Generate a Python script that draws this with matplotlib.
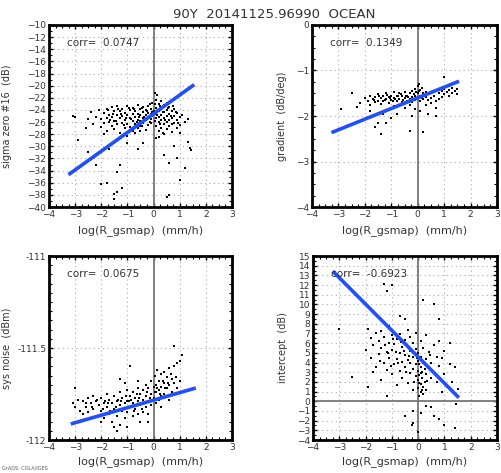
import numpy as np
import matplotlib
matplotlib.use("Agg")
import matplotlib.pyplot as plt
from matplotlib.ticker import MultipleLocator

# title / labels
TITLE = "90Y  20141125.96990  OCEAN"
XLABEL = "log(R_gsmap)  (mm/h)"

# panel 1: sigma zero #16
sig_x = [-3.1, -3.0, -2.9, -2.6, -2.5, -2.4, -2.3, -2.2, -2.1, -2.0, -2.0,
         -1.9, -1.9, -1.8, -1.8, -1.8, -1.7, -1.7, -1.6, -1.6, -1.6, -1.5, -1.5, -1.5,
         -1.4, -1.4, -1.4, -1.3, -1.3, -1.3, -1.2, -1.2, -1.2, -1.1, -1.1, -1.1,
         -1.0, -1.0, -1.0, -1.0,
         -0.9, -0.9, -0.9, -0.8, -0.8, -0.8, -0.8, -0.7, -0.7, -0.7, -0.6, -0.6, -0.6, -0.6,
         -0.5, -0.5, -0.5, -0.5, -0.4, -0.4, -0.4, -0.4, -0.3, -0.3, -0.3, -0.3,
         -0.2, -0.2, -0.2, -0.2, -0.1, -0.1, -0.1, -0.1, -0.05, -0.05,
         0.0, 0.05, 0.05, 0.1, 0.1, 0.1, 0.1, 0.1, 0.15, 0.2, 0.2, 0.2, 0.2, 0.2,
         0.3, 0.3, 0.3, 0.3, 0.3, 0.4, 0.4, 0.4, 0.4, 0.4, 0.5, 0.5, 0.5, 0.5, 0.5,
         0.6, 0.6, 0.6, 0.6, 0.7, 0.7, 0.7, 0.7, 0.8, 0.8, 0.8, 0.9, 0.9, 0.9,
         1.0, 1.0, 1.1, 1.2, 1.3,
         -2.5, -2.2, -2.0, -1.8, -1.5, -1.4, -1.5, -1.2, -1.3, -1.4, -1.0, -0.6, -0.5,
         0.5, 0.6, 1.0, 1.3, 1.4, 0.9, 1.2, 0.4, 0.6, 0.2, -0.4, 0.8, 1.0, 1.45, -1.7, -1.9,
         -1.75, -1.65, -1.55, -1.45, -1.35, -1.25, -1.15, -1.05, -0.95, -0.85, -0.75, -0.65,
         -0.55, -0.45, -0.35, -0.25, -0.15, -0.05, 0.05, 0.15, 0.25, 0.35, 0.45, 0.55,
         0.65, 0.75, 0.85, 0.95, 0.25, -0.15, -0.45, -0.7, 0.1, 0.35]
sig_y = [-25.0, -25.1, -28.9, -27.0, -25.5, -24.3, -26.4, -25.2, -24.0, -26.8, -25.5,
         -24.5, -26.2, -23.8, -25.4, -27.5, -24.9, -26.0, -23.5, -25.2, -26.7, -24.2, -25.8, -27.2,
         -23.3, -24.8, -26.3, -25.3, -24.1, -27.8, -23.8, -25.0, -26.1, -24.5, -25.7, -27.0,
         -23.4, -24.9, -26.4, -28.3,
         -24.0, -25.3, -26.8, -23.6, -24.7, -25.9, -27.4, -24.2, -25.1, -26.3, -23.2, -24.6, -25.6, -27.0,
         -23.9, -24.8, -25.9, -26.7, -23.5, -24.4, -25.3, -26.2, -24.0, -24.9, -25.7, -27.3,
         -23.3, -24.5, -25.4, -26.5, -23.8, -24.7, -25.5, -26.1, -22.8, -25.0,
         -24.2, -25.8, -21.2, -22.3, -23.6, -24.6, -25.4, -26.6, -21.5, -23.0, -24.1, -25.1, -26.0, -27.5,
         -22.5, -23.7, -24.8, -25.7, -26.9, -23.2, -24.4, -25.3, -26.3, -28.0, -22.9, -24.0, -25.0, -26.0, -27.2,
         -23.5, -24.7, -25.6, -26.6, -24.2, -25.3, -26.4, -27.6, -23.8, -25.0, -26.1, -24.5, -25.7, -27.0,
         -25.2, -26.5, -24.8, -26.0, -25.5,
         -31.0, -33.0, -36.2, -36.0, -37.8, -37.5, -38.6, -36.8, -33.0, -34.2, -29.5, -30.5, -27.5,
         -38.3, -38.0, -35.6, -29.3, -30.3, -32.0, -33.5, -31.5, -32.8, -28.5, -29.5, -30.0, -27.8, -30.6, -30.5, -28.0,
         -24.0, -25.6, -24.6, -25.9, -23.8, -24.6, -26.5, -25.3, -23.6, -25.5, -23.9, -26.0,
         -25.2, -23.7, -25.1, -24.2, -26.0, -24.4, -23.1, -24.9, -23.4, -24.3, -25.7, -23.7,
         -25.0, -23.4, -24.4, -26.2, -26.4, -23.0, -26.6, -27.8, -28.6, -27.8]
sig_fit_x = [-3.2, 1.5]
sig_fit_y = [-34.5, -20.0]

# panel 2: gradient
grad_x = [-2.9, -2.5, -2.2, -2.0, -1.9, -1.8, -1.8, -1.7, -1.6, -1.6, -1.5, -1.5, -1.4, -1.4,
          -1.3, -1.3, -1.2, -1.2, -1.1, -1.1, -1.0, -1.0, -0.9, -0.9, -0.9, -0.8, -0.8,
          -0.7, -0.7, -0.7, -0.6, -0.6, -0.5, -0.5, -0.5, -0.4, -0.4, -0.3, -0.3, -0.3,
          -0.2, -0.2, -0.2, -0.1, -0.1, -0.1, -0.1, 0.0, 0.0, 0.0, 0.05, 0.1, 0.1, 0.1, 0.1,
          0.15, 0.2, 0.2, 0.3, 0.3, 0.3, 0.4, 0.5, 0.5, 0.6, 0.7, 0.7, 0.8, 0.8, 0.9, 0.9,
          1.0, 1.0, 1.0, 1.1, 1.2, 1.2, 1.3, 1.3, 1.4, 1.5, 1.5,
          -1.4, -1.6, -1.2, -1.0, -0.3, 0.2, -0.2, 0.7, -1.5, -1.3, -1.8, -2.3, -0.8, 0.4,
          -1.65, -1.45, -1.25, -1.05, -0.85, -0.65, -0.45, -0.25, -0.05, 0.05, 0.15, 0.25,
          -0.15, -0.35, -0.55, -0.75, -0.95, -1.15]
grad_y = [-1.85, -1.50, -1.72, -1.60, -1.68, -1.55, -1.75, -1.62, -1.58, -1.70, -1.52, -1.66, -1.60, -1.74,
          -1.55, -1.68, -1.62, -1.50, -1.58, -1.72, -1.55, -1.65, -1.48, -1.60, -1.78, -1.55, -1.68,
          -1.50, -1.62, -1.75, -1.57, -1.70, -1.48, -1.60, -1.82, -1.55, -1.66, -1.50, -1.62, -1.76,
          -1.45, -1.58, -1.70, -1.40, -1.55, -1.65, -1.85, -1.35, -1.50, -1.60, -1.30, -1.42, -1.55, -1.68, -1.90,
          -1.38, -1.50, -1.62, -1.47, -1.58, -1.75, -1.65, -1.60, -1.72, -1.55, -1.68, -1.82, -1.50, -1.62, -1.45, -1.58,
          -1.40, -1.52, -1.15, -1.48, -1.42, -1.55, -1.38, -1.50, -1.45, -1.40, -1.52,
          -2.40, -2.25, -2.15, -2.05, -2.32, -2.36, -2.00, -2.00, -2.15, -1.95, -1.90, -1.80, -1.95, -1.95,
          -1.64, -1.57, -1.65, -1.60, -1.62, -1.52, -1.57, -1.66, -1.48, -1.44, -1.60, -1.55,
          -1.52, -1.59, -1.65, -1.57, -1.66, -1.54]
grad_fit_x = [-3.2, 1.5]
grad_fit_y = [-2.35, -1.25]

# panel 3: sys noise
noise_x = [-3.0, -3.1, -3.0, -2.9, -2.8, -2.7, -2.6, -2.5, -2.5, -2.4, -2.3, -2.3, -2.2, -2.2,
           -2.1, -2.0, -2.0, -1.9, -1.9, -1.8, -1.8, -1.7, -1.7, -1.6, -1.6, -1.5, -1.5,
           -1.4, -1.4, -1.3, -1.3, -1.3, -1.2, -1.2, -1.1, -1.1, -1.0, -1.0, -1.0,
           -0.9, -0.9, -0.8, -0.8, -0.8, -0.7, -0.7, -0.6, -0.6, -0.6, -0.5, -0.5,
           -0.4, -0.4, -0.4, -0.3, -0.3, -0.3, -0.2, -0.2, -0.2, -0.1, -0.1, -0.1,
           0.0, 0.0, 0.05, 0.1, 0.1, 0.1, 0.15, 0.2, 0.2, 0.2, 0.3, 0.3, 0.3, 0.4, 0.4, 0.4,
           0.5, 0.5, 0.6, 0.6, 0.7, 0.7, 0.8, 0.8, 0.8, 0.9, 0.9, 1.0, 1.0, 1.1,
           -0.9, -1.3, -1.1, -0.6, -1.5, -1.4, -2.0, -2.4, -0.5, -1.0, -2.7, -0.2, 0.3, 0.6,
           -2.6, -2.35, -2.15, -1.95, -1.75, -1.55, -1.35, -1.15, -0.95, -0.75, -0.55, -0.35,
           -0.15, 0.05, 0.25, 0.45, 0.65, 0.85, -0.25, -0.45, -0.65, -0.85, -1.05, -1.25,
           -1.45, -1.65, -1.85, 0.15, 0.35, 0.55]
noise_y = [-111.72, -111.80, -111.82, -111.78, -111.84, -111.79, -111.82, -111.77, -111.85, -111.80,
           -111.76, -111.83, -111.79, -111.87, -111.81, -111.77, -111.84, -111.80, -111.88, -111.75,
           -111.82, -111.78, -111.86, -111.80, -111.90, -111.76, -111.83, -111.79, -111.87, -111.74,
           -111.81, -111.92, -111.77, -111.84, -111.80, -111.88, -111.73, -111.79, -111.85,
           -111.76, -111.82, -111.74, -111.80, -111.87, -111.77, -111.83, -111.72, -111.79, -111.86,
           -111.75, -111.81, -111.73, -111.78, -111.85, -111.70, -111.76, -111.82, -111.72, -111.79,
           -111.86, -111.68, -111.75, -111.81,
           -111.71, -111.77, -111.65, -111.70, -111.74, -111.80, -111.62, -111.68, -111.73, -111.78,
           -111.64, -111.71, -111.76, -111.63, -111.69, -111.75, -111.66, -111.72, -111.61, -111.70,
           -111.67, -111.74, -111.49, -111.60, -111.69, -111.58, -111.72, -111.57, -111.68, -111.54,
           -111.60, -111.67, -111.69, -111.68, -111.93, -111.95, -111.90, -111.88, -111.90, -111.93,
           -111.86, -111.90, -111.82, -111.78,
           -111.80, -111.82, -111.78, -111.83, -111.80, -111.85, -111.78, -111.83, -111.79, -111.84,
           -111.77, -111.80, -111.77, -111.74, -111.75, -111.72, -111.64, -111.66, -111.74, -111.83,
           -111.75, -111.78, -111.76, -111.79, -111.82, -111.84, -111.79, -111.72, -111.68, -111.69]
noise_fit_x = [-3.1, 1.55]
noise_fit_y = [-111.91, -111.72]

# panel 4: intercept
icpt_x = [-3.0, -2.5, -2.0, -1.9, -1.9, -1.8, -1.8, -1.7, -1.7, -1.6, -1.6, -1.5, -1.5,
          -1.4, -1.4, -1.4, -1.3, -1.3, -1.3, -1.2, -1.2, -1.2, -1.2, -1.1, -1.1, -1.1,
          -1.0, -1.0, -1.0, -1.0, -0.9, -0.9, -0.9, -0.8, -0.8, -0.8, -0.7, -0.7, -0.7, -0.7,
          -0.6, -0.6, -0.6, -0.5, -0.5, -0.5, -0.5, -0.4, -0.4, -0.4, -0.4,
          -0.3, -0.3, -0.3, -0.3, -0.2, -0.2, -0.2, -0.2, -0.2, -0.2, -0.25,
          -0.1, -0.1, -0.1, -0.1, 0.0, 0.0, 0.0, 0.0, 0.0, 0.05, 0.05,
          0.1, 0.1, 0.1, 0.1, 0.1, 0.1, 0.15, 0.15, 0.2, 0.2, 0.2, 0.2, 0.2, 0.25,
          0.3, 0.3, 0.3, 0.3, 0.3, 0.4, 0.4, 0.5, 0.5, 0.5, 0.6, 0.6, 0.6, 0.6, 0.7, 0.7,
          0.8, 0.8, 0.8, 0.8, 0.9, 0.9, 1.0, 1.0, 1.0, 1.1, 1.2, 1.2, 1.3, 1.4, 1.4, 1.45, 1.5,
          0.0, -0.5,
          -1.45, -1.25, -1.05, -0.85, -0.65, -0.45, -0.35, -0.15, -0.05, 0.05, 0.15, 0.25,
          0.35, 0.45, -0.55, -0.75, -0.95, -1.15, 0.05, 0.12]
icpt_y = [7.5, 2.5, 5.3, 1.5, 7.5, 4.5, 6.5, 3.0, 5.8, 3.5, 7.0, 4.9, 6.2,
          2.2, 5.5, 7.3, 4.0, 6.6, 12.1, 3.2, 5.1, 11.4, 0.5, 4.5, 6.0, 7.8,
          2.8, 5.3, 6.8, 12.0, 3.8, 5.9, 7.2, 1.7, 4.4, 6.4, 3.1, 5.0, 6.9, 8.8,
          2.4, 4.1, 5.6, 3.5, 4.8, 6.3, 8.5, 1.9, 4.3, 5.7, 7.4,
          2.9, 3.9, 5.2, 6.6, 1.2, 3.3, 4.6, 6.0, -1.0, -2.2, -2.5,
          2.6, 3.8, 5.4, 7.1, 1.4, 2.2, 3.1, 4.2, 5.0, 0.5, 2.7,
          1.0, 1.8, 3.5, 4.6, 6.2, -1.2, 2.4, 3.0, 0.7, 1.5, 3.9, 5.5, 10.5, 2.0,
          -0.5, 1.2, 2.8, 4.4, 6.8, 3.4, 5.1, 2.4, 4.0, -0.6, 10.0, 3.0, 5.8, -1.5, 2.0, 4.6,
          8.5, 3.6, 6.2, -1.8, 1.0, 4.5, 2.8, 5.2, -2.5, 1.5, 6.0, 3.8, 2.0, 3.5, -2.8, -0.3, 1.3,
          -3.2, -1.5,
          4.2, 5.8, 3.6, 5.1, 6.1, 3.0, 4.7, 2.0, 4.5, 3.8, 1.2, 3.3,
          2.1, 4.8, 5.2, 4.0, 6.4, 5.0, 1.9, 2.9]
icpt_fit_x = [-3.2, 1.5]
icpt_fit_y = [13.3, 0.5]

corr_text = ["corr=  0.0747", "corr=  0.1349", "corr=  0.0675", "corr=  -0.6923"]
ylabels = ["sigma zero #16  (dB)", "gradient  (dB/deg)", "sys noise  (dBm)", "intercept  (dB)"]

W, H = 501, 473
fig = plt.figure(figsize=(W / 100, H / 100), dpi=100)
TXT = "#333333"


def px_axes(x0, y0, x1, y1):
    return fig.add_axes([x0 / W, 1 - y1 / H, (x1 - x0) / W, (y1 - y0) / H])


def style(ax, ylim, ymajor, yminor, ylabel, corr, ylab_x, xlab_y, hline=False):
    ax.set_xlim(-4, 3)
    ax.set_ylim(*ylim)
    ax.xaxis.set_major_locator(MultipleLocator(1))
    ax.xaxis.set_minor_locator(MultipleLocator(0.25))
    ax.yaxis.set_major_locator(MultipleLocator(ymajor))
    ax.yaxis.set_minor_locator(MultipleLocator(yminor))
    ax.grid(True, which="major", color="#aaaaaa", linestyle=(0, (1, 3)), linewidth=0.8)
    ax.axvline(0, color="#777777", linewidth=1.3, zorder=1)
    if hline:
        ax.axhline(0, color="#777777", linewidth=1.3, zorder=1)
    for s in ax.spines.values():
        s.set_linewidth(2.0)
        s.set_color("black")
    ax.tick_params(which="major", direction="in", length=3, width=1, labelsize=6.5,
                   colors="black", labelcolor=TXT, pad=2, top=True, right=True)
    ax.tick_params(which="minor", direction="in", length=2, width=0.8, top=True, right=True)
    ax.set_xlabel(XLABEL, fontsize=8, color=TXT)
    ax.set_ylabel(ylabel, fontsize=7, color=TXT)
    ax.yaxis.set_label_coords(ylab_x, 0.5)
    ax.xaxis.set_label_coords(0.5, xlab_y)
    ax.text(0.1, 0.90, corr, transform=ax.transAxes, fontsize=7.5, color=TXT, va="center")
    ax.set_axisbelow(True)


def draw(ax, x, y, fx, fy):
    ax.scatter(x, y, s=2.5, marker="s", color="black", linewidths=0, zorder=2)
    ax.plot(fx, fy, color="#1f4fff", linewidth=2.6, zorder=3)


ax1 = px_axes(49, 25, 232, 207)
draw(ax1, sig_x, sig_y, sig_fit_x, sig_fit_y)
style(ax1, (-40, -10), 2, 1, ylabels[0], corr_text[0], -0.20, -0.10)

ax2 = px_axes(312, 25, 497, 207)
draw(ax2, grad_x, grad_y, grad_fit_x, grad_fit_y)
style(ax2, (-4, 0), 1, 0.25, ylabels[1], corr_text[1], -0.135, -0.10)

ax3 = px_axes(49, 256, 232, 440)
draw(ax3, noise_x, noise_y, noise_fit_x, noise_fit_y)
style(ax3, (-112, -111), 0.5, 0.05, ylabels[2], corr_text[2], -0.20, -0.09)
ax3.set_yticks([-112, -111.5, -111])
ax3.set_yticklabels(["-112", "-111.5", "-111"])

ax4 = px_axes(313, 256, 497, 440)
draw(ax4, icpt_x, icpt_y, icpt_fit_x, icpt_fit_y)
style(ax4, (-4, 15), 1, 0.5, ylabels[3], corr_text[3], -0.135, -0.09, hline=True)

fig.text(274 / W, 1 - 14 / H, TITLE, ha="center", va="center", fontsize=9.5, color=TXT)
fig.text(2 / W, 1 - 468 / H, "GrADS: COLA/IGES", fontsize=3.5, color="#555555", va="center")

fig.savefig("out.png", dpi=100)
